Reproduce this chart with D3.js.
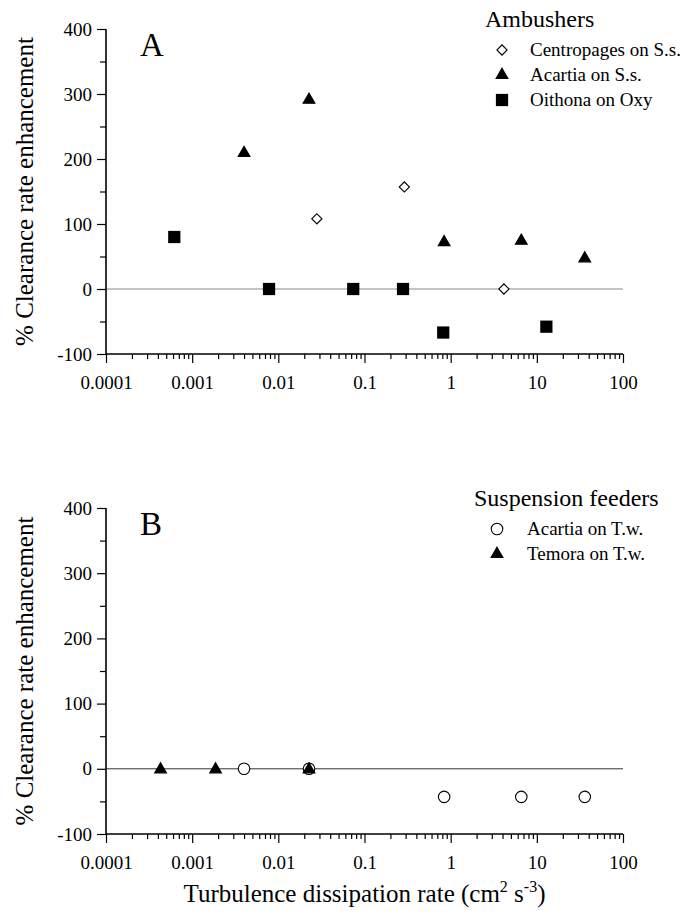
<!DOCTYPE html>
<html><head><meta charset="utf-8">
<script src="https://cdn.jsdelivr.net/npm/d3@7"></script>
<style>
html,body{margin:0;padding:0;background:#fff;}
</style></head>
<body>
<svg id="chart" width="700" height="915" style="font-family:'Liberation Serif', serif"></svg>
<script>
// ---- data ----
const xTickValues = [0.0001, 0.001, 0.01, 0.1, 1, 10, 100];
const xTickLabels = ["0.0001", "0.001", "0.01", "0.1", "1", "10", "100"];
const yTickValues = [-100, 0, 100, 200, 300, 400];
const yTickLabels = ["-100", "0", "100", "200", "300", "400"];

// Panel A: Ambushers
const centropagesSsX = [0.028, 0.29, 4.15];
const centropagesSsY = [108, 157, 0];
const acartiaSsX = [0.004, 0.0227, 0.84, 6.6, 36];
const acartiaSsY = [209, 291, 72, 74, 47];
const oithonaOxyX = [0.00062, 0.0078, 0.074, 0.28, 0.82, 12.9];
const oithonaOxyY = [80, 0, 0, 0, -67, -58];

// Panel B: Suspension feeders
const acartiaTwX = [0.004, 0.0227, 0.84, 6.6, 36];
const acartiaTwY = [0, 0, -43, -43, -43];
const temoraTwX = [0.00043, 0.00187, 0.0227];
const temoraTwY = [-1, -1, -1];

const svg = d3.select("#chart");
const FONT = "'Liberation Serif', serif";

const left = 106, right = 623;
const x = d3.scaleLog().domain([0.0001, 100]).range([left, right]);

// minor ticks
const xAll = [];
for (let e = -4; e < 2; e++) for (let m = 1; m < 10; m++) xAll.push(+(m * Math.pow(10, e)).toPrecision(3));
xAll.push(100);
const yAll = d3.range(-100, 401, 50);

const shapes = {
  diamond: {type: d3.symbolSquare, size: 52, rotate: 45, fill: "#fff", stroke: "#000"},
  triangle: {type: d3.symbolTriangle, size: 60, rotate: 0, fill: "#000", stroke: "#000"},
  square: {type: d3.symbolSquare, size: 150, rotate: 0, fill: "#000", stroke: "none"},
  circle: {type: d3.symbolCircle, size: 104, rotate: 0, fill: "#fff", stroke: "#000"}
};

function drawMarker(g, shape, px, py) {
  const s = shapes[shape];
  g.append("path")
    .attr("d", d3.symbol().type(s.type).size(s.size)())
    .attr("transform", `translate(${px},${py}) rotate(${s.rotate})`)
    .attr("fill", s.fill)
    .attr("stroke", s.stroke)
    .attr("stroke-width", 1.1);
}

function txt(sel, size) {
  return sel.attr("font-family", FONT).style("font-family", FONT).style("font-size", size + "px").attr("fill", "#000");
}

function panel(cfg) {
  const y = d3.scaleLinear().domain([-100, 400]).range([cfg.bottom, cfg.top]);
  const g = svg.append("g");

  // zero line
  g.append("line").attr("x1", x(0.0001)).attr("x2", x(100))
    .attr("y1", y(0)).attr("y2", y(0))
    .attr("stroke", cfg.zeroColor).attr("stroke-width", 1);

  // x axis
  const xa = g.append("g").attr("transform", `translate(0,${y(-100)})`)
    .call(d3.axisBottom(x).tickValues(xAll).tickSize(9).tickPadding(13)
      .tickFormat(d => { const i = xTickValues.findIndex(v => Math.abs(v - d) / v < 1e-6); return i >= 0 ? xTickLabels[i] : ""; }));
  xa.attr("font-family", FONT);
  xa.selectAll(".tick").filter(d => !xTickValues.some(v => Math.abs(v - d) / v < 1e-6))
    .select("line").attr("y2", 5);
  xa.select(".domain").attr("d", `M${left},0H${right}`).attr("stroke-width", 1.6);
  xa.selectAll("line").attr("stroke-width", 1.2);
  txt(xa.selectAll("text"), 19);

  // y axis
  const ya = g.append("g").attr("transform", `translate(${left},0)`)
    .call(d3.axisLeft(y).tickValues(yAll).tickSize(9).tickPadding(5)
      .tickFormat(d => { const i = yTickValues.indexOf(d); return i >= 0 ? yTickLabels[i] : ""; }));
  ya.attr("font-family", FONT);
  ya.selectAll(".tick").filter(d => yTickValues.indexOf(d) < 0).select("line").attr("x2", -6);
  ya.select(".domain").attr("d", `M0,${y(-100)}V${y(400)}`).attr("stroke-width", 1.6);
  ya.selectAll("line").attr("stroke-width", 1.2);
  txt(ya.selectAll("text"), 19);

  // y label
  txt(g.append("text")
    .attr("transform", `translate(33,${(y(-100) + y(400)) / 2}) rotate(-90)`)
    .attr("text-anchor", "middle"), 25)
    .text("% Clearance rate enhancement");

  // panel letter
  txt(g.append("text").attr("x", 140).attr("y", cfg.top + 27), 33).text(cfg.letter);

  // series
  cfg.series.forEach(s => {
    s.xs.forEach((xv, i) => drawMarker(g, s.shape, x(xv), y(s.ys[i])));
  });

  // legend
  txt(g.append("text").attr("x", cfg.legendTitleX).attr("y", cfg.top - 2), 24).text(cfg.legendTitle);
  cfg.series.forEach((s, i) => {
    const ly = cfg.top + 21 + i * 25;
    drawMarker(g, s.shape, cfg.legendSymX, ly);
    txt(g.append("text").attr("x", cfg.legendTextX).attr("y", ly + 6), 19).text(s.name);
  });
  return y;
}

panel({
  top: 29, bottom: 354, letter: "A", zeroColor: "#8a8a8a",
  legendTitle: "Ambushers", legendTitleX: 485, legendSymX: 502, legendTextX: 530,
  series: [
    {name: "Centropages on S.s.", shape: "diamond", xs: centropagesSsX, ys: centropagesSsY},
    {name: "Acartia on S.s.", shape: "triangle", xs: acartiaSsX, ys: acartiaSsY},
    {name: "Oithona on Oxy", shape: "square", xs: oithonaOxyX, ys: oithonaOxyY}
  ]
});

panel({
  top: 508, bottom: 834, letter: "B", zeroColor: "#333",
  legendTitle: "Suspension feeders", legendTitleX: 474, legendSymX: 497, legendTextX: 527,
  series: [
    {name: "Acartia on T.w.", shape: "circle", xs: acartiaTwX, ys: acartiaTwY},
    {name: "Temora on T.w.", shape: "triangle", xs: temoraTwX, ys: temoraTwY}
  ]
});

// x axis title
const xt = txt(svg.append("text").attr("x", (left + right) / 2).attr("y", 902)
  .attr("text-anchor", "middle"), 25);
xt.append("tspan").text("Turbulence dissipation rate (cm");
xt.append("tspan").attr("dy", -10).style("font-size", "16px").text("2");
xt.append("tspan").attr("dy", 10).text(" s");
xt.append("tspan").attr("dy", -10).style("font-size", "16px").text("-3");
xt.append("tspan").attr("dy", 10).text(")");
</script>
</body></html>
